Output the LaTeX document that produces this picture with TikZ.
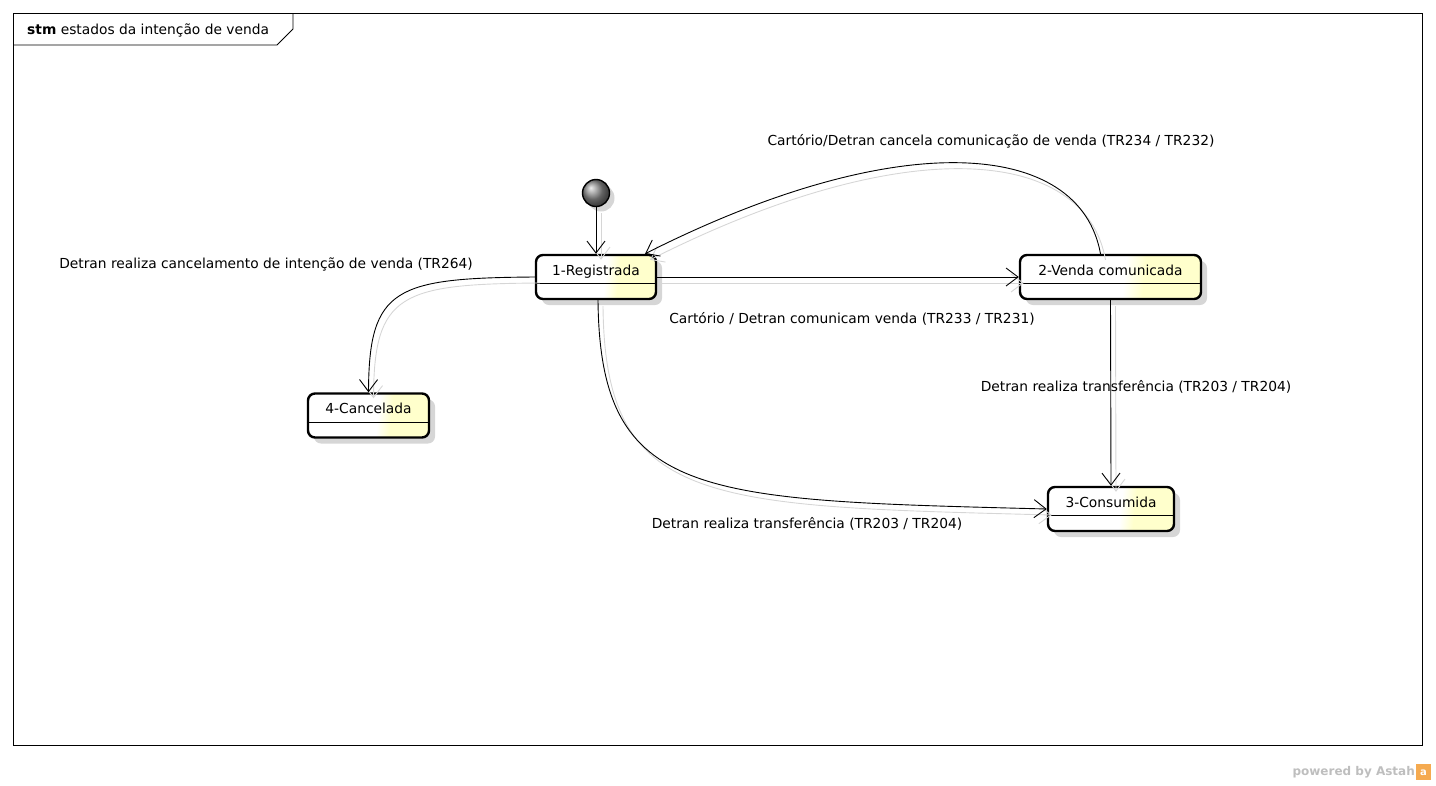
\documentclass[tikz,border=0pt]{standalone}
\usepackage{fontspec}
\setmainfont{DejaVu Sans}
\usetikzlibrary{arrows.meta,shadows}

\definecolor{estadoamarelo}{RGB}{255,255,204}
\definecolor{sombra}{RGB}{214,214,214}
\definecolor{astahcinza}{RGB}{190,190,190}
\definecolor{astahlaranja}{RGB}{245,170,80}

\pgfdeclarehorizontalshading{estadoshade}{100bp}{color(0bp)=(white); color(54bp)=(white);
  color(60bp)=(estadoamarelo); color(100bp)=(estadoamarelo)}

\tikzset{
  estado/.style={draw, line width=2.4pt, rounded corners=7pt,
    shading=estadoshade, shading angle=-6,
    minimum height=44pt, text height=10pt, text depth=14pt,
    font=\fontsize{13.8}{16}\selectfont,
    drop shadow={shadow xshift=6pt, shadow yshift=-6pt, fill=sombra, opacity=1}},
  inicial/.style={circle, draw, line width=1.4pt, minimum size=27pt, inner sep=0pt,
    ball color=black!45,
    drop shadow={shadow xshift=5pt, shadow yshift=-5pt, fill=sombra, opacity=1}},
  transicao/.style={line width=0.9pt, -{Straight Barb[length=12pt,width=18pt,line width=0.9pt]},
    preaction={draw=sombra, line width=0.9pt, transform canvas={shift={(5pt,-6pt)}}}},
  rotulo/.style={font=\fontsize{13.8}{16}\selectfont, inner sep=0pt},
}

\begin{document}
\begin{tikzpicture}[x=1pt, y=-1pt]
                \useasboundingbox (0,0) rectangle (1436,785);

                % Frame of the state machine
                \draw [line width=0.9pt] (13,13) rectangle (1422,745);
                \draw [line width=0.9pt] (13,45) -- (277,45) -- (293,29) -- (293,13);
                \node (titulo) [rotulo, anchor=west] at (27,30) {\textbf{stm} estados da intenção de venda};

                % Initial pseudo state
                \node (ini) [inicial] at (596,193) {};

                % States
                \node (reg) [estado, minimum width=120pt] at (596,277) {1-Registrada};
                \node (ven) [estado, minimum width=181pt] at (1110.5,277) {2-Venda comunicada};
                \node (can) [estado, minimum width=121pt] at (368.5,415.5) {4-Cancelada};
                \node (con) [estado, minimum width=126pt] at (1111,509) {3-Consumida};

                % Compartment lines of the states
                \foreach \e in {reg,ven,can,con}
                  \draw [line width=0.9pt] ([yshift=-30pt]\e.north west) -- ([yshift=-30pt]\e.north east);

                % Drawing transition ini reg
                \draw [transicao] (ini) -- (reg);

                % Drawing transition reg ven
                \draw [transicao] (reg) -- (ven);
                \node (rotRegVen) [rotulo] at (852,319) {Cartório / Detran comunicam venda (TR233 / TR231)};

                % Drawing transition ven reg
                \draw [transicao] ([xshift=-10pt]ven.north) .. controls (1080,140) and (900,125) .. ([xshift=49pt]reg.north);
                \node (rotVenReg) [rotulo] at (991,141) {Cartório/Detran cancela comunicação de venda (TR234 / TR232)};

                % Drawing transition reg can
                \draw [transicao] (reg.west) .. controls (395,278) and (369,288) .. (can.north);
                \node (rotRegCan) [rotulo] at (266,264) {Detran realiza cancelamento de intenção de venda (TR264)};

                % Drawing transition ven con
                \draw [transicao] (ven.south) -- (con.north);
                \node (rotVenCon) [rotulo] at (1136,387) {Detran realiza transferência (TR203 / TR204)};

                % Drawing transition reg con
                \draw [transicao] ([xshift=2pt]reg.south) .. controls (600,500) and (700,500) .. (con.west);
                \node (rotRegCon) [rotulo] at (807,524) {Detran realiza transferência (TR203 / TR204)};

                % Tool mark
                \node (astah) [rotulo, anchor=east, text=astahcinza, font=\fontsize{12}{14}\selectfont\bfseries] at (1415,772) {powered by Astah};
                \fill [astahlaranja] (1416,764) rectangle (1431,780);
                \node (astahicone) [rotulo, text=white, font=\fontsize{10}{11}\selectfont\bfseries] at (1423.5,773) {a};
\end{tikzpicture}
\end{document}
